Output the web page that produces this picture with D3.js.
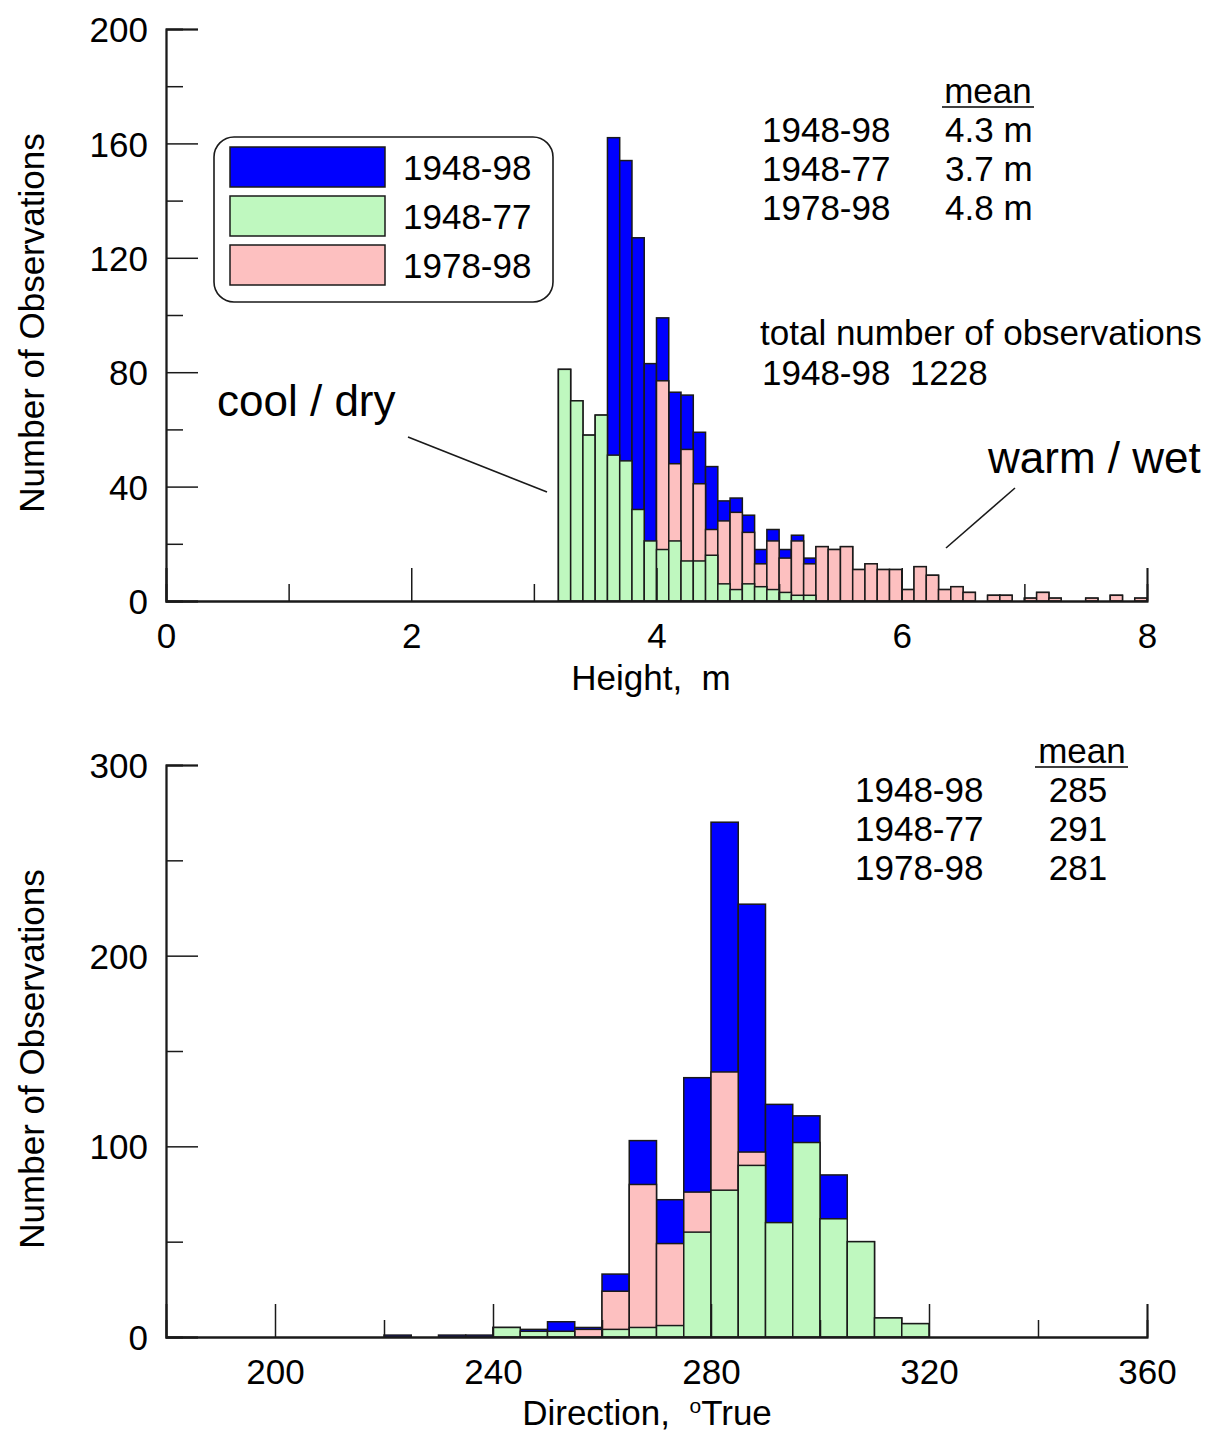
<!DOCTYPE html>
<meta charset="utf-8">
<html>
<head>
    <title>Wave height and direction histograms</title>
    <script type="text/javascript" src="https://d3js.org/d3.v7.min.js"></script>
    <style>
        body { margin: 0; background: #fff; }
        text { font-family: "Liberation Sans", Arial, sans-serif; fill: #000; }
    </style>
</head>
<body>
<div id="chart"></div>
<script>

    // ---- data: height histogram, bins of 0.1 m starting at 3.2 m ----
    var heightBinStart = 3.2, heightBinWidth = 0.1;
    var height4898 = [81, 70, 58, 65, 162, 154, 127, 83, 99, 73, 72, 59, 47, 35, 36, 30, 18, 25, 18, 23, 15,
        19, 18, 19, 11, 13, 11, 11, 4, 12, 9, 4, 5, 3, 0, 2, 2, 0, 1, 3, 1, 0, 0, 1, 0, 2, 0, 1];
    var height4877 = [81, 70, 58, 65, 51, 49, 32, 21, 18, 21, 14, 14, 16, 6, 4, 6, 5, 4, 3, 2, 2,
        0, 0, 0, 0, 0, 0, 0, 0, 0, 0, 0, 0, 0, 0, 0, 0, 0, 0, 0, 0, 0, 0, 0, 0, 0, 0, 0];
    var height7898 = [0, 0, 0, 0, 0, 0, 0, 0, 77, 48, 53, 41, 25, 28, 31, 24, 13, 21, 15, 21, 13,
        19, 18, 19, 11, 13, 11, 11, 4, 12, 9, 4, 5, 3, 0, 2, 2, 0, 1, 3, 1, 0, 0, 1, 0, 2, 0, 1];

    // ---- data: direction histogram, bins of 5 degrees starting at 220 ----
    var dirBinStart = 220, dirBinWidth = 5;
    var dir4898 = [1, 0, 1, 1, 5, 4, 8, 5, 33, 103, 72, 136, 270, 227, 122, 116, 85, 50, 10, 7];
    var dir4877 = [0, 0, 0, 0, 5, 3, 3, 0, 4, 5, 6, 55, 77, 90, 60, 102, 62, 50, 10, 7];
    var dir7898 = [0, 0, 0, 0, 0, 0, 0, 4, 24, 80, 49, 76, 139, 97, 0, 0, 0, 0, 0, 0];

    var periods = ["1948-98", "1948-77", "1978-98"];
    var colors = ["#0000ff", "#bff8bf", "#fdc0c0"];
    var heightMeans = ["4.3 m", "3.7 m", "4.8 m"];
    var dirMeans = ["285", "291", "281"];

    var W = 1222, H = 1431;
    var svg = d3.select("#chart").append("svg")
        .attr("width", W)
        .attr("height", H);

    var fs = 35;

    // draw one histogram panel
    function panel(opts) {
        var x = d3.scaleLinear().domain(opts.xDomain).range([166, 1147]);
        var y = d3.scaleLinear().domain(opts.yDomain).range([opts.y0, opts.y1]);
        var g = svg.append("g");

        // series: blue (all years) behind, then pink, then green in front
        var order = [0, 2, 1];
        order.forEach(function (s) {
            var vals = opts.series[s];
            g.append("g").selectAll("rect")
                .data(vals.map(function (v, i) { return { v: v, i: i }; }).filter(function (d) { return d.v > 0; }))
                .enter().append("rect")
                .attr("x", function (d) { return x(opts.binStart + d.i * opts.binWidth); })
                .attr("width", function (d) { return x(opts.binStart + (d.i + 1) * opts.binWidth) - x(opts.binStart + d.i * opts.binWidth); })
                .attr("y", function (d) { return y(d.v); })
                .attr("height", function (d) { return y(0) - y(d.v); })
                .attr("fill", colors[s])
                .attr("stroke", "#1a1a1a")
                .attr("stroke-width", 1.5);
        });

        // y axis: major ticks with labels, minor ticks without
        var yMajor = d3.axisLeft(y).tickValues(opts.yMajor).tickSize(-32).tickPadding(18);
        var yMinor = d3.axisLeft(y).tickValues(opts.yMinor).tickSize(-17).tickFormat("");
        var ya = g.append("g").attr("transform", "translate(166,0)").call(yMajor);
        g.append("g").attr("transform", "translate(166,0)").call(yMinor);

        var xMajor = d3.axisBottom(x).tickValues(opts.xMajor).tickSize(-33).tickPadding(22);
        var xMinor = d3.axisBottom(x).tickValues(opts.xMinor).tickSize(-17).tickFormat("");
        g.append("g").attr("transform", "translate(0," + opts.y0 + ")").call(xMajor);
        g.append("g").attr("transform", "translate(0," + opts.y0 + ")").call(xMinor);

        g.selectAll(".domain").attr("stroke", "#1a1a1a").attr("stroke-width", 1.8);
        g.selectAll(".tick line").attr("stroke", "#1a1a1a").attr("stroke-width", 1.5);
        g.selectAll(".tick text").style("font-size", fs + "px").style("font-family", "Liberation Sans, Arial, sans-serif").attr("fill", "#000");
        ya.selectAll(".tick text").attr("dy", "0.36em");

        // axis titles
        svg.append("text")
            .attr("transform", "translate(44," + ((opts.y0 + opts.y1) / 2 + 8) + ") rotate(-90)")
            .attr("text-anchor", "middle")
            .style("font-size", "35px")
            .text("Number of Observations");
        return { x: x, y: y };
    }

    // ---------- top panel: height ----------
    panel({
        xDomain: [0, 8], yDomain: [0, 200], y0: 601, y1: 29,
        binStart: heightBinStart, binWidth: heightBinWidth,
        series: [height4898, height4877, height7898],
        yMajor: [0, 40, 80, 120, 160, 200], yMinor: [20, 60, 100, 140, 180],
        xMajor: [0, 2, 4, 6, 8], xMinor: [1, 3, 5, 7]
    });

    svg.append("text").attr("x", 651).attr("y", 690).attr("text-anchor", "middle")
        .style("font-size", fs + "px").attr("xml:space", "preserve").text("Height,  m");

    // legend
    var leg = svg.append("g");
    leg.append("rect").attr("x", 214).attr("y", 137).attr("width", 339).attr("height", 165)
        .attr("rx", 20).attr("fill", "#fff").attr("stroke", "#1a1a1a").attr("stroke-width", 1.6);
    periods.forEach(function (p, i) {
        leg.append("rect").attr("x", 230).attr("y", 147 + i * 49).attr("width", 155).attr("height", 40)
            .attr("fill", colors[i]).attr("stroke", "#1a1a1a").attr("stroke-width", 1.5);
        leg.append("text").attr("x", 403).attr("y", 180 + i * 49).style("font-size", fs + "px").text(p);
    });

    // means table (top)
    svg.append("text").attr("x", 988).attr("y", 103).attr("text-anchor", "middle")
        .style("font-size", fs + "px").text("mean");
    svg.append("line").attr("x1", 942).attr("x2", 1034).attr("y1", 107).attr("y2", 107)
        .attr("stroke", "#000").attr("stroke-width", 1.6);
    periods.forEach(function (p, i) {
        svg.append("text").attr("x", 762).attr("y", 142 + i * 39).style("font-size", fs + "px").text(p);
        svg.append("text").attr("x", 945).attr("y", 142 + i * 39).style("font-size", fs + "px").text(heightMeans[i]);
    });
    svg.append("text").attr("x", 760).attr("y", 345).style("font-size", fs + "px").text("total number of observations");
    svg.append("text").attr("x", 762).attr("y", 385).attr("xml:space", "preserve")
        .style("font-size", fs + "px").text("1948-98  1228");

    // annotations
    svg.append("text").attr("x", 217).attr("y", 416).style("font-size", "44px").text("cool / dry");
    svg.append("line").attr("x1", 408).attr("y1", 437).attr("x2", 547).attr("y2", 492)
        .attr("stroke", "#1a1a1a").attr("stroke-width", 1.6);
    svg.append("text").attr("x", 988).attr("y", 473).style("font-size", "44px").text("warm / wet");
    svg.append("line").attr("x1", 1015).attr("y1", 488).attr("x2", 946).attr("y2", 548)
        .attr("stroke", "#1a1a1a").attr("stroke-width", 1.6);

    // ---------- bottom panel: direction ----------
    panel({
        xDomain: [180, 360], yDomain: [0, 300], y0: 1337, y1: 765,
        binStart: dirBinStart, binWidth: dirBinWidth,
        series: [dir4898, dir4877, dir7898],
        yMajor: [0, 100, 200, 300], yMinor: [50, 150, 250],
        xMajor: [200, 240, 280, 320, 360], xMinor: [220, 260, 300, 340]
    });

    var dt = svg.append("text").attr("x", 647).attr("y", 1425).attr("text-anchor", "middle")
        .style("font-size", fs + "px").attr("xml:space", "preserve");
    dt.append("tspan").text("Direction,  ");
    dt.append("tspan").attr("dy", -12).style("font-size", "21px").text("o");
    dt.append("tspan").attr("dy", 12).text("True");

    svg.append("text").attr("x", 1082).attr("y", 763).attr("text-anchor", "middle")
        .style("font-size", fs + "px").text("mean");
    svg.append("line").attr("x1", 1035).attr("x2", 1128).attr("y1", 767).attr("y2", 767)
        .attr("stroke", "#000").attr("stroke-width", 1.6);
    periods.forEach(function (p, i) {
        svg.append("text").attr("x", 855).attr("y", 802 + i * 39).style("font-size", fs + "px").text(p);
        svg.append("text").attr("x", 1078).attr("y", 802 + i * 39).attr("text-anchor", "middle")
            .style("font-size", fs + "px").text(dirMeans[i]);
    });

</script>
</body>
</html>
